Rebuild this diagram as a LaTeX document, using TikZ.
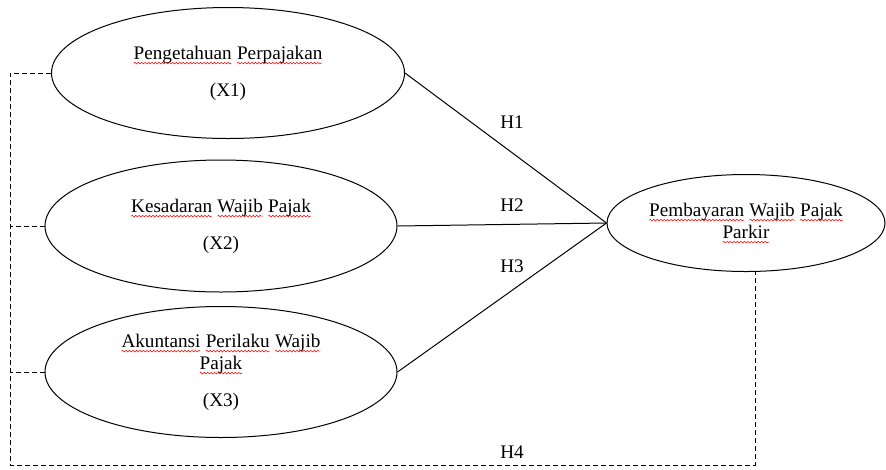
\documentclass[tikz,border=0pt]{standalone}
\usepackage{fontspec}
\setmainfont{Liberation Serif}
\usetikzlibrary{shapes.geometric,decorations.pathmorphing}
\newcommand{\typo}[1]{\tikz[baseline=(w.base)]{%
		\node [shape=rectangle,draw=none,align=none,inner sep=0pt,outer sep=0pt,
			minimum width=0pt,minimum height=0pt,anchor=center] (w) at (0,0) {#1};%
		\draw [red,line width=0.4pt,decorate,decoration={snake,amplitude=0.6pt,segment length=2.6pt}]
			([yshift=-3pt]w.base west) -- ([yshift=-3pt]w.base east);}}
\begin{document}
\begin{tikzpicture}[x=0.75pt,y=-0.75pt,
		font=\fontsize{14.4}{16.5}\selectfont,
		latent/.style={draw,ellipse,line width=0.75pt,align=center,inner sep=0pt},
		hyp/.style={line width=0.75pt},
		dashlink/.style={line width=0.7pt,dash pattern=on 3.6pt off 2.4pt},
		hlabel/.style={inner sep=0pt}]
		\useasboundingbox (0,0) rectangle (886,469);
		%Independent variables
		\node [latent,minimum width=264.75pt,minimum height=98.25pt] (x1) at (228,73)
			{\typo{Pengetahuan} \typo{Perpajakan}\\[11.25pt](X1)};
		\node [latent,minimum width=264pt,minimum height=99pt] (x2) at (221,226)
			{\typo{Kesadaran} \typo{Wajib} \typo{Pajak}\\[11.25pt](X2)};
		\node [latent,minimum width=264pt,minimum height=98.25pt] (x3) at (221,372)
			{\typo{Akuntansi} \typo{Perilaku} \typo{Wajib}\\\typo{Pajak}\\[11.25pt](X3)};
		%Dependent variable
		\node [latent,minimum width=208.5pt,minimum height=72.75pt] (y) at (746,223)
			{\typo{Pembayaran} \typo{Wajib} \typo{Pajak}\\\typo{Parkir}};
		%Hypothesis paths
		\draw [hyp] (x1.east) -- (y.west);
		\draw [hyp] (x2.east) -- (y.west);
		\draw [hyp] (x3.east) -- (y.west);
		\node [hlabel] (h1) at (512,122) {H1};
		\node [hlabel] (h2) at (512,205) {H2};
		\node [hlabel] (h3) at (512,266) {H3};
		%Simultaneous path (dashed)
		\coordinate (bottomleft) at (10,465);
		\coordinate (bottomright) at (755,465);
		\draw [dashlink] (x1.west) -- (x1.west -| bottomleft) -- (bottomleft)
			-- (bottomright) -- (bottomright |- y.south);
		\draw [dashlink] (x2.west) -- (x2.west -| bottomleft);
		\draw [dashlink] (x3.west) -- (x3.west -| bottomleft);
		\node [hlabel] (h4) at (512,452) {H4};
\end{tikzpicture}
\end{document}
